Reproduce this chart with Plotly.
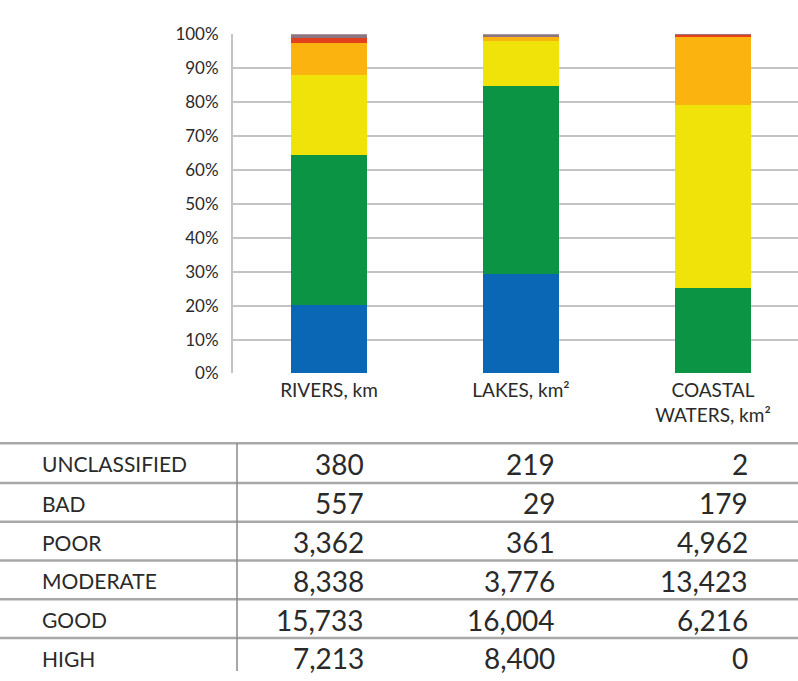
import plotly.graph_objects as go

# ---- data ----
water_types = ["RIVERS, km", "LAKES, km²", "COASTAL<br>WATERS, km²"]
classes = ["HIGH", "GOOD", "MODERATE", "POOR", "BAD", "UNCLASSIFIED"]
rivers = [7213, 15733, 8338, 3362, 557, 380]
lakes = [8400, 16004, 3776, 361, 29, 219]
coastal = [0, 6216, 13423, 4962, 179, 2]
class_colors = ["#0a67b5", "#0b9443", "#efe30a", "#fbb40f", "#e2411c", "#8c7580"]
y_ticks = [0, 10, 20, 30, 40, 50, 60, 70, 80, 90, 100]
y_tick_labels = [f"{v}%" for v in y_ticks]

W, H = 798, 681
FONT = "Lato"
TXT = "#2a2a2a"

def px_x(x):
    return x / W

def px_y(y):
    return 1 - y / H

fig = go.Figure()
xs = list(range(len(water_types)))
for i, cls in enumerate(classes):
    fig.add_trace(go.Bar(
        x=xs,
        y=[rivers[i], lakes[i], coastal[i]],
        name=cls,
        marker=dict(color=class_colors[i], line=dict(width=0)),
        width=0.4,
        showlegend=False,
    ))

fig.update_layout(
    width=W, height=H,
    margin=dict(l=0, r=0, t=0, b=0),
    paper_bgcolor="white", plot_bgcolor="white",
    barmode="stack", barnorm="percent",
    font=dict(family=FONT, color=TXT),
    xaxis=dict(
        domain=[px_x(233), 1.0],
        range=[-0.5, 2.443],
        tickvals=xs, ticktext=water_types,
        tickfont=dict(size=19, family=FONT, color=TXT),
        showgrid=False, zeroline=False, showline=False,
        ticks="", ticklabelstandoff=4,
    ),
    yaxis=dict(
        domain=[px_y(374), px_y(24)],
        range=[0, 100],
        tickvals=y_ticks, ticktext=y_tick_labels,
        tickfont=dict(size=17, family=FONT, color=TXT),
        showgrid=True, gridcolor="#c4c4c4", gridwidth=2,
        zeroline=False, showline=True, linecolor="#c4c4c4", linewidth=2,
        ticks="", ticklabelstandoff=9,
    ),
)

# ---- table below the chart ----
row_tops = [446, 487, 527, 567, 607, 647]
table_rows = list(reversed(range(len(classes))))  # UNCLASSIFIED ... HIGH
col_right = [366, 557, 750]
shapes = []
for top in row_tops:
    shapes.append(dict(type="line", xref="paper", yref="paper",
                       x0=0, x1=1, y0=px_y(top), y1=px_y(top),
                       line=dict(color="#a8a8a8", width=2.5)))
shapes.append(dict(type="line", xref="paper", yref="paper",
                   x0=px_x(237), x1=px_x(237), y0=px_y(446), y1=0,
                   line=dict(color="#8a8a8a", width=1.5)))

annotations = []
for r, ci in enumerate(table_rows):
    yc = row_tops[r] + 21
    annotations.append(dict(text=classes[ci], xref="paper", yref="paper",
                            x=px_x(40), y=px_y(yc), xanchor="left", yanchor="middle",
                            showarrow=False, font=dict(size=21, family=FONT, color=TXT)))
    for c, series in enumerate([rivers, lakes, coastal]):
        annotations.append(dict(text=f"{series[ci]:,}", xref="paper", yref="paper",
                                x=px_x(col_right[c]), y=px_y(yc), xanchor="right", yanchor="middle",
                                showarrow=False, font=dict(size=28, family=FONT, color=TXT)))

fig.update_layout(shapes=shapes, annotations=annotations)
fig.write_html("out.html")
